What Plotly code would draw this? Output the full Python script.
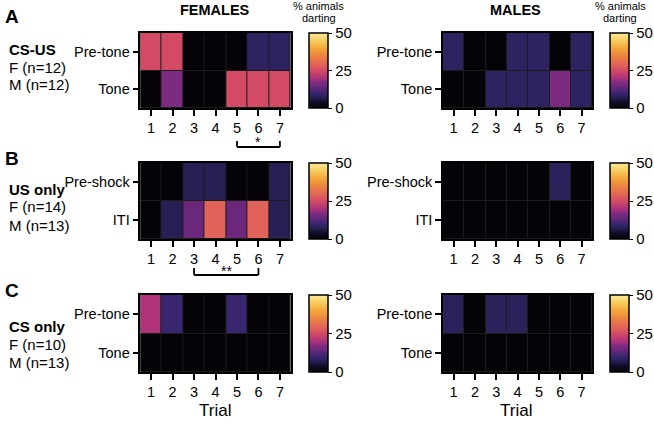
import plotly.graph_objects as go

# ---------------- data ----------------
trials = [1, 2, 3, 4, 5, 6, 7]
rows_cs = ["Pre-tone", "Tone"]
rows_us = ["Pre-shock", "ITI"]

cs_us_f_pre = [25, 25, 0, 0, 0, 8.3, 8.3]
cs_us_f_tone = [0, 16.7, 0, 0, 25, 25, 25]
cs_us_m_pre = [8.3, 0, 0, 8.3, 8.3, 0, 8.3]
cs_us_m_tone = [0, 0, 8.3, 8.3, 8.3, 16.7, 8.3]

us_f_pre = [0, 0, 7.1, 7.1, 0, 0, 7.1]
us_f_iti = [0, 7.1, 14.3, 28.6, 14.3, 28.6, 7.1]
us_m_pre = [0, 0, 0, 0, 0, 7.7, 0]
us_m_iti = [0, 0, 0, 0, 0, 0, 0]

cs_f_pre = [20, 10, 0, 0, 10, 0, 0]
cs_f_tone = [0, 0, 0, 0, 0, 0, 0]
cs_m_pre = [7.7, 0, 7.7, 7.7, 0, 0, 0]
cs_m_tone = [0, 0, 0, 0, 0, 0, 0]

cbar_ticks = [0, 25, 50]

# ---------------- styling ----------------
W, H = 654, 423
FONT = "Liberation Sans, Arial, Helvetica, sans-serif"

cscale = [
    [0.0, "#050308"],
    [0.08, "#120c2a"],
    [0.14, "#262054"],
    [0.2, "#3a2570"],
    [0.29, "#6d287c"],
    [0.34, "#7f2b82"],
    [0.4, "#b0337a"],
    [0.5, "#d34a65"],
    [0.57, "#e0615a"],
    [0.68, "#ec7f42"],
    [0.8, "#f5a83a"],
    [0.9, "#f8cc5e"],
    [1.0, "#fbeb9c"],
]

def px(x):
    return x / W

def py(y):
    return 1 - y / H

# panel geometry in pixels (left, right), (top, bottom)
xf = (141, 292)
xm = (445, 595)
rows_px = [(33, 108), (163, 239), (295, 372)]
cb_x = [310, 613]

panels = [
    (0, 0, [cs_us_f_pre, cs_us_f_tone], rows_cs),
    (0, 1, [cs_us_m_pre, cs_us_m_tone], rows_cs),
    (1, 0, [us_f_pre, us_f_iti], rows_us),
    (1, 1, [us_m_pre, us_m_iti], rows_us),
    (2, 0, [cs_f_pre, cs_f_tone], rows_cs),
    (2, 1, [cs_m_pre, cs_m_tone], rows_cs),
]

fig = go.Figure()
layout = {}
for i, (r, c, z, ylabels) in enumerate(panels):
    k = i + 1
    xa = "x" if k == 1 else f"x{k}"
    ya = "y" if k == 1 else f"y{k}"
    top, bot = rows_px[r]
    xr = xf if c == 0 else xm
    fig.add_trace(go.Heatmap(
        z=z, x=trials, y=ylabels,
        xaxis=xa, yaxis=ya,
        zmin=0, zmax=50, colorscale=cscale,
        xgap=1, ygap=1,
        hoverinfo="skip",
        colorbar=dict(
            x=px(cb_x[c]), xanchor="left", xref="paper",
            y=py((top + bot) / 2), yanchor="middle", yref="paper",
            len=bot - top, lenmode="pixels",
            thickness=19, thicknessmode="pixels",
            outlinewidth=1.5, outlinecolor="black",
            tickvals=cbar_ticks, ticks="outside", ticklen=4,
            tickcolor="black", tickwidth=1.2,
            tickfont=dict(family=FONT, size=15, color="black"),
            borderwidth=0, xpad=0, ypad=0,
        ),
    ))
    layout["xaxis" if k == 1 else f"xaxis{k}"] = dict(
        domain=[px(xr[0]), px(xr[1])], anchor=ya,
        tickvals=trials, ticks="outside", ticklen=6, tickwidth=1.5,
        tickcolor="black", showline=True, mirror=True, linecolor="black",
        linewidth=1.5, showgrid=False, zeroline=False,
        tickfont=dict(family=FONT, size=14.5, color="black"),
        range=[0.5, 7.5], fixedrange=True,
    )
    layout["yaxis" if k == 1 else f"yaxis{k}"] = dict(
        domain=[py(bot), py(top)], anchor=xa,
        autorange="reversed", type="category",
        ticks="outside", ticklen=6, tickwidth=1.5, tickcolor="black",
        showline=True, mirror=True, linecolor="black", linewidth=1.5,
        showgrid=False, zeroline=False,
        tickfont=dict(family=FONT, size=14.5, color="black"),
        fixedrange=True,
    )

fig.update_layout(**layout)

ann = []
def text(x, y, s, size, bold=False, xanchor="center"):
    ann.append(dict(
        x=px(x), y=py(y), xref="paper", yref="paper", text=f"<b>{s}</b>" if bold else s,
        showarrow=False, xanchor=xanchor, yanchor="middle",
        font=dict(family=FONT, size=size, color="black"),
    ))

text(216, 10, "FEMALES", 14.5, True)
text(518, 10, "MALES", 14.5, True)
for cx in (320, 623):
    text(cx, 6, "% animals", 11)
    text(cx, 18, "darting", 11)

text(3, 17, "A", 19, True, "left")
text(3, 158, "B", 19, True, "left")
text(3, 290, "C", 19, True, "left")

groups = [("CS-US", "F (n=12)", "M (n=12)", 49),
          ("US only", "F (n=14)", "M (n=13)", 189),
          ("CS only", "F (n=10)", "M (n=13)", 326)]
for g, f, m, y0 in groups:
    text(7, y0, g, 15, True, "left")
    text(7, y0 + 18, f, 15, False, "left")
    text(7, y0 + 36, m, 15, False, "left")

text(216, 410, "Trial", 17)
text(518, 410, "Trial", 17)

# significance brackets
shapes = []
def bracket(x0, x1, ytop, ybot, label, ylab):
    line = dict(color="black", width=1.8)
    shapes.append(dict(type="line", xref="x", yref="paper", x0=x0, x1=x1,
                       y0=py(ybot), y1=py(ybot), line=line))
    shapes.append(dict(type="line", xref="x", yref="paper", x0=x0, x1=x0,
                       y0=py(ytop), y1=py(ybot), line=line))
    shapes.append(dict(type="line", xref="x", yref="paper", x0=x1, x1=x1,
                       y0=py(ytop), y1=py(ybot), line=line))
    ann.append(dict(x=(x0 + x1) / 2, xref="x", y=py(ylab), yref="paper",
                    text=label, showarrow=False, yanchor="middle",
                    font=dict(family=FONT, size=14, color="black")))

bracket(5, 7, 141, 147, "*", 142)
bracket(3, 6, 268, 275, "**", 271)

fig.update_layout(
    width=W, height=H,
    margin=dict(l=0, r=0, t=0, b=0),
    paper_bgcolor="white", plot_bgcolor="#1c1c1c",
    annotations=ann, shapes=shapes,
    showlegend=False,
    font=dict(family=FONT, color="black"),
)

fig.write_html(
    "out.html",
    config={"displayModeBar": False},
    post_script="document.body.style.margin='0px';document.body.style.padding='0px';",
)
